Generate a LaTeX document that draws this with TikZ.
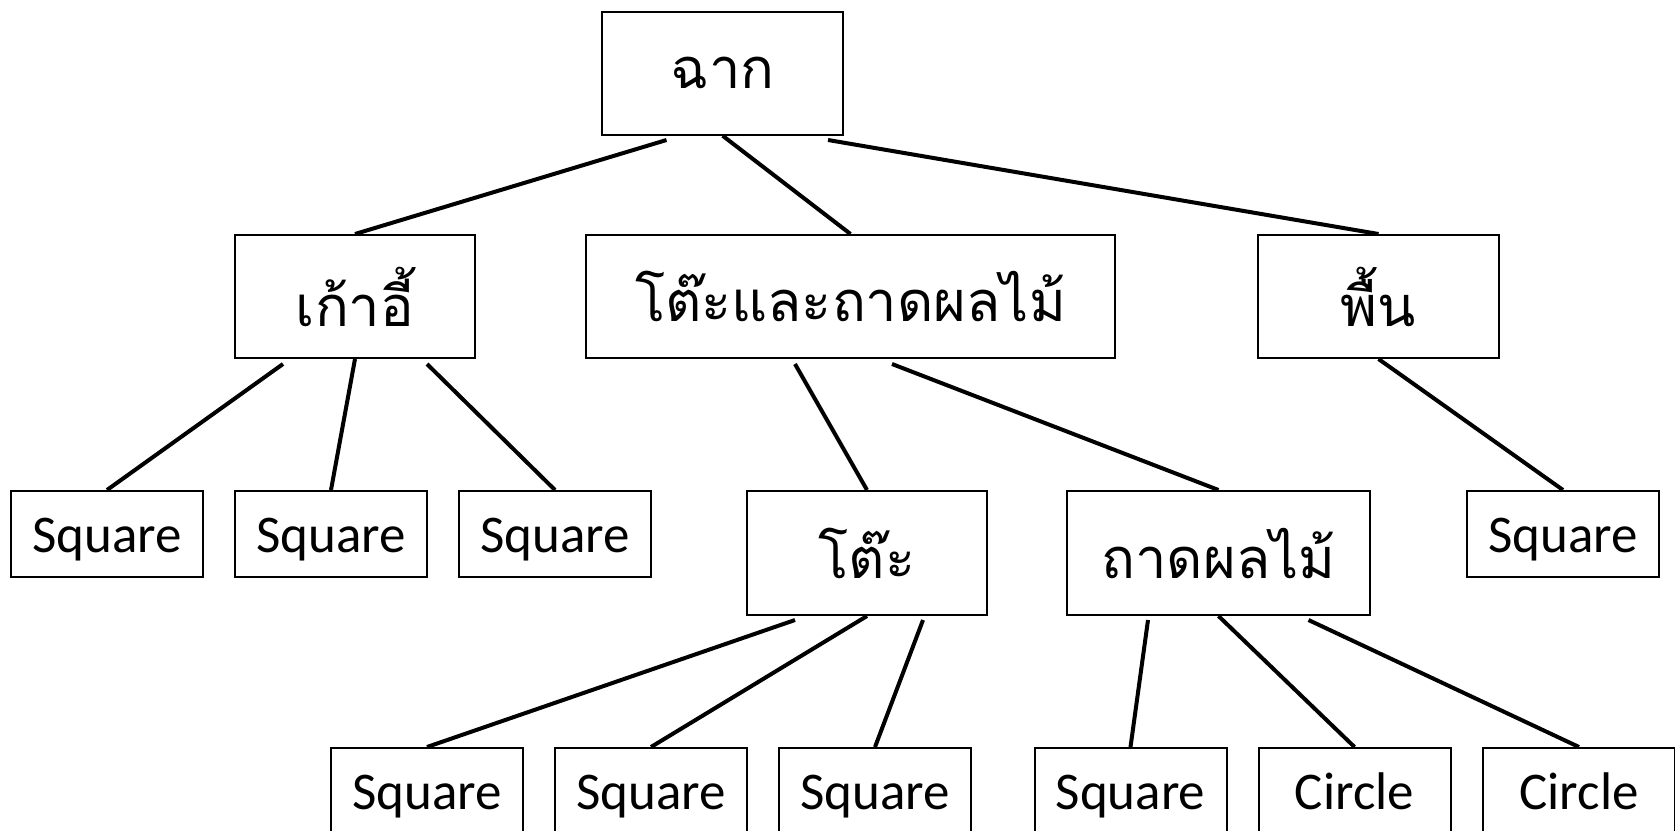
\documentclass[tikz,border=0pt]{standalone}
\usepackage{fontspec}
\setmainfont{Carlito}
\newfontfamily\thaifont[Script=Thai]{Loma}
\begin{document}
\begin{tikzpicture}[x=0.5pt,y=-0.5pt,
  box/.style={draw=black,line width=1pt,inner sep=0pt,minimum height=#1*0.5pt},
  box/.default=86,
  th/.style={font=\thaifont\fontsize{28}{34}\selectfont},
  en/.style={font=\fontsize{26.5}{32}\selectfont,text height=18pt,text depth=0pt},
  link/.style={line width=2pt}]
\clip (0,0) rectangle (1675,830);
\useasboundingbox (0,0) rectangle (1675,830);
% level 1
\node[box=123,th,minimum width=120.25pt] (root) at (722.7,73.3) {ฉาก};
% level 2
\node[box=123,th,minimum width=120pt] (chair) at (355,296.5) {เก้าอี้};
\node[box=123,th,minimum width=264.5pt] (tt) at (850.5,296.5) {โต๊ะและถาดผลไม้};
\node[box=123,th,minimum width=120.5pt] (floor) at (1378.5,296.5) {พื้น};
% level 3
\node[box,en,minimum width=96pt] (s1) at (107,534) {Square};
\node[box,en,minimum width=96pt] (s2) at (331,534) {Square};
\node[box,en,minimum width=96pt] (s3) at (555,534) {Square};
\node[box=124,th,minimum width=120pt] (table) at (867,553) {โต๊ะ};
\node[box=124,th,minimum width=151.5pt] (tray) at (1218.5,553) {ถาดผลไม้};
\node[box,en,minimum width=96pt] (s4) at (1563,534) {Square};
% level 4
\node[box,en,minimum width=96pt] (b1) at (427,791) {Square};
\node[box,en,minimum width=96pt] (b2) at (651,791) {Square};
\node[box,en,minimum width=96pt] (b3) at (875,791) {Square};
\node[box,en,minimum width=96pt] (b4) at (1130.5,791) {Square};
\node[box,en,minimum width=96pt] (b5) at (1354.5,791) {Circle};
\node[box,en,minimum width=96pt] (b6) at (1579,791) {Circle};
% connector start points
\coordinate (r1) at (666.5,140);
\coordinate (r3) at (828,140);
\coordinate (c1) at (283,364);
\coordinate (c3) at (427,364);
\coordinate (t1) at (795,364);
\coordinate (t2) at (892,364);
\coordinate (k1) at (795,620);
\coordinate (k3) at (923,620);
\coordinate (y1) at (1148,620);
\coordinate (y3) at (1308.5,620);
% connectors
\draw[link] (r1) -- (chair.north);
\draw[link] (root.south) -- (tt.north);
\draw[link] (r3) -- (floor.north);
\draw[link] (c1) -- (s1.north);
\draw[link] (chair.south) -- (s2.north);
\draw[link] (c3) -- (s3.north);
\draw[link] (t1) -- (table.north);
\draw[link] (t2) -- (tray.north);
\draw[link] (floor.south) -- (s4.north);
\draw[link] (k1) -- (b1.north);
\draw[link] (table.south) -- (b2.north);
\draw[link] (k3) -- (b3.north);
\draw[link] (y1) -- (b4.north);
\draw[link] (tray.south) -- (b5.north);
\draw[link] (y3) -- (b6.north);
\end{tikzpicture}
\end{document}
